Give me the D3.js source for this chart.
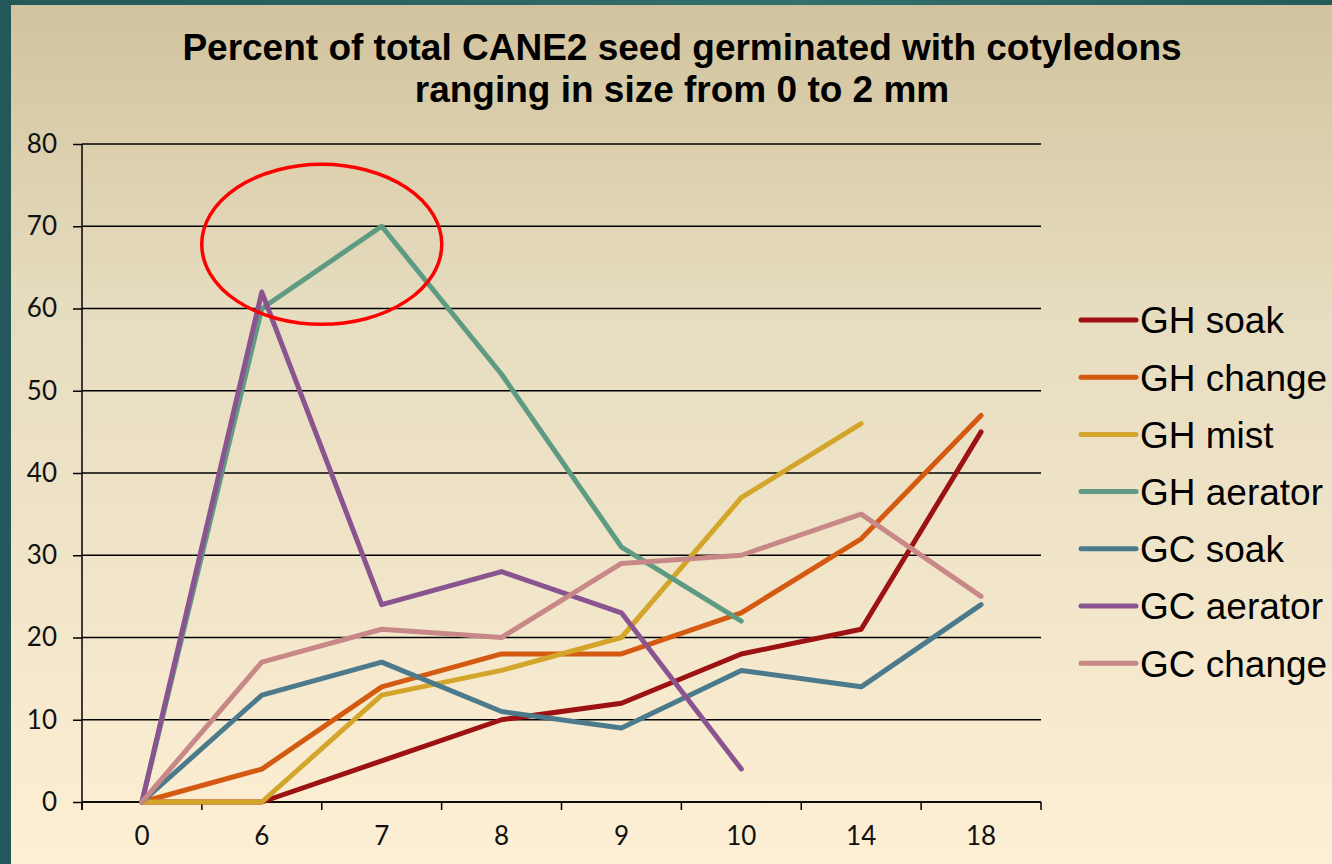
<!DOCTYPE html>
<html>
<head>
<meta charset="utf-8">
<script src="https://cdn.jsdelivr.net/npm/d3@7"></script>
<style>
  html, body { margin: 0; padding: 0; background: #285d5e; }
  #chart { width: 1332px; height: 864px; }
</style>
</head>
<body>
<div id="chart"></div>
<script>
(function () {
    var width = 1332,
        height = 864;

    // data
    var days = ["0", "6", "7", "8", "9", "10", "14", "18"];
    var yTicks = [0, 10, 20, 30, 40, 50, 60, 70, 80];

    var ghSoak    = [0, 0, 5, 10, 12, 18, 21, 45];
    var ghChange  = [0, 4, 14, 18, 18, 23, 32, 47];
    var ghMist    = [0, 0, 13, 16, 20, 37, 46, null];
    var ghAerator = [0, 60, 70, 52, 31, 22, null, null];
    var gcSoak    = [0, 13, 17, 11, 9, 16, 14, 24];
    var gcAerator = [0, 62, 24, 28, 23, 4, null, null];
    var gcChange  = [0, 17, 21, 20, 29, 30, 35, 25];

    var seriesNames = ["GH soak", "GH change", "GH mist", "GH aerator", "GC soak", "GC aerator", "GC change"];
    var seriesValues = [ghSoak, ghChange, ghMist, ghAerator, gcSoak, gcAerator, gcChange];
    var colors = ["#9c1212", "#d45a12", "#d3a52a", "#5f9b82", "#4b7a8c", "#895490", "#c98888"];

    var series = seriesNames.map(function (name, i) {
        return { name: name, color: colors[i], values: seriesValues[i] };
    });

    var svg = d3.select("#chart")
        .append("svg")
        .attr("width", width)
        .attr("height", height)

    var defs = svg.append("defs");

    var grad = defs.append("linearGradient")
        .attr("id", "bg")
        .attr("x1", 0).attr("y1", 0)
        .attr("x2", 0).attr("y2", 1)
    grad.append("stop").attr("offset", "0%").attr("stop-color", "#d1c39d")
    grad.append("stop").attr("offset", "35%").attr("stop-color", "#e6dcbf")
    grad.append("stop").attr("offset", "100%").attr("stop-color", "#fdefd4")

    var tealGrad = defs.append("linearGradient")
        .attr("id", "teal")
        .attr("x1", 0).attr("y1", 0)
        .attr("x2", 1).attr("y2", 0)
    tealGrad.append("stop").attr("offset", "0%").attr("stop-color", "#245759")
    tealGrad.append("stop").attr("offset", "60%").attr("stop-color", "#33706c")
    tealGrad.append("stop").attr("offset", "100%").attr("stop-color", "#245a5c")

    // slide frame
    svg.append("rect")
        .attr("width", width)
        .attr("height", height)
        .attr("fill", "url(#teal)")

    svg.append("rect")
        .attr("x", 11)
        .attr("y", 5)
        .attr("width", width - 11)
        .attr("height", height - 5)
        .attr("fill", "url(#bg)")

    var margin = { top: 144, right: 291, bottom: 62, left: 82 };

    var x = d3.scaleBand()
        .domain(days)
        .range([margin.left, width - margin.right]);

    var y = d3.scaleLinear()
        .domain([0, 80])
        .range([height - margin.bottom, margin.top]);

    var tickFont = "'Lato', 'DejaVu Sans', sans-serif";

    // gridlines
    svg.append("g")
        .selectAll("line")
        .data(yTicks)
        .enter()
        .append("line")
        .attr("x1", margin.left)
        .attr("x2", width - margin.right)
        .attr("y1", function (d) { return y(d) })
        .attr("y2", function (d) { return y(d) })
        .attr("stroke", "#000")
        .attr("stroke-width", 1.5)

    // y axis
    var yAxis = svg.append("g")
        .attr("transform", "translate(" + margin.left + ",0)")
        .call(d3.axisLeft(y).tickValues(yTicks).tickSize(9).tickPadding(16))
    yAxis.select(".domain").attr("stroke", "#000").attr("stroke-width", 1.5)
        .attr("d", "M0," + y(80) + "V" + (y(0) + 8))
    yAxis.selectAll(".tick line").attr("stroke", "#000").attr("stroke-width", 1.5)
    yAxis.selectAll("text")
        .style("font-family", tickFont)
        .style("font-size", "26px")
        .attr("fill", "#111")

    // x axis, ticks on the band edges
    var xAxis = svg.append("g")
        .attr("transform", "translate(0," + y(0) + ")")
        .call(d3.axisBottom(x).tickSize(0).tickPadding(25))
    xAxis.select(".domain").attr("stroke", "#000").attr("stroke-width", 1.5)
        .attr("d", "M" + margin.left + ",0H" + (width - margin.right))
    xAxis.selectAll("text")
        .style("font-family", tickFont)
        .style("font-size", "26px")
        .attr("fill", "#111")

    var edges = days.map(function (d) { return x(d) + x.bandwidth() }).concat([x(days[0])]);
    xAxis.selectAll(".edge")
        .data(edges)
        .enter()
        .append("line")
        .attr("class", "edge")
        .attr("x1", function (d) { return d })
        .attr("x2", function (d) { return d })
        .attr("y1", 0)
        .attr("y2", 8)
        .attr("stroke", "#000")
        .attr("stroke-width", 1.5)

    // lines
    var line = d3.line()
        .defined(function (d) { return d.v != null })
        .x(function (d) { return x(d.day) + x.bandwidth() / 2 })
        .y(function (d) { return y(d.v) })

    svg.append("g")
        .selectAll("path")
        .data(series)
        .enter()
        .append("path")
        .attr("fill", "none")
        .attr("stroke", function (d) { return d.color })
        .attr("stroke-width", 5)
        .attr("stroke-linejoin", "round")
        .attr("stroke-linecap", "round")
        .attr("d", function (d) {
            return line(d.values.map(function (v, i) { return { day: days[i], v: v } }))
        })

    // red annotation ring around the peak
    svg.append("ellipse")
        .attr("cx", x("7"))
        .attr("cy", y(67.8))
        .attr("rx", 120)
        .attr("ry", 80)
        .attr("fill", "none")
        .attr("stroke", "#ff0000")
        .attr("stroke-width", 3.5)

    // title
    var title = svg.append("text")
        .attr("text-anchor", "middle")
        .style("font-family", "'Liberation Sans', Arial, sans-serif")
        .style("font-weight", "bold")
        .style("font-size", "37px")
        .attr("fill", "#000")
    title.append("tspan").attr("x", 682).attr("y", 60)
        .text("Percent of total CANE2 seed germinated with cotyledons")
    title.append("tspan").attr("x", 682).attr("y", 102)
        .text("ranging in size from 0 to 2 mm")

    // legend
    var legend = svg.append("g")
        .selectAll("g")
        .data(series)
        .enter()
        .append("g")
        .attr("transform", function (d, i) { return "translate(1081," + (320 + i * 57.2) + ")" })

    legend.append("line")
        .attr("x1", 0)
        .attr("x2", 55)
        .attr("stroke", function (d) { return d.color })
        .attr("stroke-width", 5)
        .attr("stroke-linecap", "round")

    legend.append("text")
        .attr("x", 59)
        .attr("dy", "0.36em")
        .style("font-family", "'Liberation Sans', Arial, sans-serif")
        .style("font-size", "37px")
        .attr("fill", "#000")
        .text(function (d) { return d.name })
})();
</script>
</body>
</html>
